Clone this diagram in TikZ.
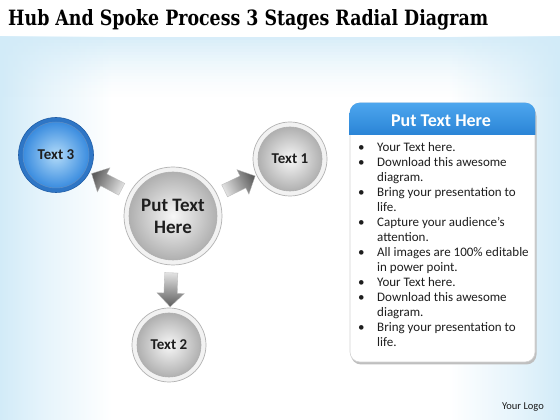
\documentclass[tikz,border=0pt]{standalone}
\usepackage{fontspec}
\setmainfont{Carlito}
\newfontfamily\titlefont{DejaVu Serif}
\usepackage{graphicx}
\usetikzlibrary{shapes.arrows}
\definecolor{bgblue}{HTML}{D2EBF8}
\definecolor{ringblue}{HTML}{2E76C6}
\definecolor{ringblueedge}{HTML}{1F5DA6}
\definecolor{ballbluein}{HTML}{B2DBF9}
\definecolor{ballblueout}{HTML}{3A8CDF}
\definecolor{hdtop}{HTML}{4DA6EE}
\definecolor{hdbot}{HTML}{2A84D6}
\definecolor{txt}{HTML}{1E1E1E}
\definecolor{arrdark}{HTML}{5E5E5E}
\definecolor{arrlight}{HTML}{E2E2E2}
\pgfdeclarehorizontalshading{bgsides}{100bp}{color(0bp)=(bgblue); color(25bp)=(bgblue);
  color(29bp)=(bgblue!55!white); color(35bp)=(white); color(65bp)=(white);
  color(71bp)=(bgblue!55!white); color(75bp)=(bgblue); color(100bp)=(bgblue)}
\tikzset{
  ringc/.style={fill=gray!10, draw=gray!60, line width=0.7pt},
  ballc/.style={circle, inner sep=0pt, inner color=gray!6, outer color=gray!62,
     draw=gray!62, line width=0.6pt, text=txt, font=\bfseries\fontsize{15}{17}\selectfont},
  harrow/.style={single arrow, sloped, allow upside down, inner sep=0pt,
     text height=6.5pt, text depth=6.5pt, minimum height=34pt, single arrow head extend=7pt,
     shading=axis, top color=arrdark, bottom color=arrlight, shading angle=#1,
     draw=gray!55, line width=0.3pt},
}
\begin{document}
\begin{tikzpicture}[x=1pt,y=1pt]
\useasboundingbox (0,0) rectangle (560,420);
\fill[white] (0,0) rectangle (560,420);
\shade[shading=bgsides] (0,0) rectangle (560,383);
\foreach \i in {0,...,19}{
  \pgfmathsetmacro\op{0.85*(1-\i/20)^1.5}
  \fill[bgblue, fill opacity=\op] (0,{383-3*\i}) rectangle (560,{383-3*\i-3.05});
}

% title
\node[anchor=base west, inner sep=0pt] (title) at (8,394)
  {\resizebox{480pt}{16pt}{\titlefont\bfseries Hub And Spoke Process 3 Stages Radial Diagram}};

% Text 3 (blue)
\fill[ringblue] (56,265) circle (37.5);
\draw[ringblueedge, line width=0.6pt] (56,265) circle (37.5);
\node[circle, inner sep=0pt, minimum size=66pt, inner color=ballbluein, outer color=ballblueout,
      draw=ringblueedge!70, line width=0.5pt, text=txt, font=\bfseries\fontsize{15}{17}\selectfont]
      (t3) at (56,265) {Text 3};

% Text 1
\filldraw[ringc] (290,261) circle (37);
\node[ballc, minimum size=64pt] (t1) at (290,261) {Text 1};

% Hub
\filldraw[ringc] (173,204) circle (49);
\node[ballc, minimum size=88pt, align=center, font=\bfseries\fontsize{19}{22}\selectfont] (hub) at (173,204) {Put Text\\Here};

% Text 2
\filldraw[ringc] (169,75) circle (37);
\node[ballc, minimum size=64pt] (t2) at (169,75) {Text 2};

% arrows
\path (hub) -- node[harrow=62.5] (a3) {} (t3);
\path (hub) -- node[harrow=-64] (a1) {} (t1);
\path (hub) -- node[harrow=178] (a2) {} (t2);

% panel
\fill[gray!50, rounded corners=10pt] (351,55.5) rectangle (536.5,314);
\node[draw=gray!35, fill=white, rounded corners=10pt, minimum width=185pt, minimum height=259pt,
      inner sep=0pt, line width=0.6pt] (panel) at (442.5,187.5) {};
\shade[top color=hdtop, bottom color=hdbot]
  (panel.west |- 0,285) {[rounded corners=10pt] -- (panel.north west) -- (panel.north east)} -- (panel.east |- 0,285) -- cycle;
\node[text=white, font=\bfseries\fontsize{18}{20}\selectfont] (ph) at (441,299) {Put Text Here};

\node[anchor=north west, inner sep=0pt, text=txt, font=\fontsize{13}{15}\selectfont] (list) at (358,279.5)
{\begin{tabular}{@{}p{19pt}@{}l@{}}
 \textbullet & Your Text here.\\
 \textbullet & Download this awesome\\
  & diagram.\\
 \textbullet & Bring your presentation to\\
  & life.\\
 \textbullet & Capture your audience’s\\
  & attention.\\
 \textbullet & All images are 100\% editable\\
  & in power point.\\
 \textbullet & Your Text here.\\
 \textbullet & Download this awesome\\
  & diagram.\\
 \textbullet & Bring your presentation to\\
  & life.
\end{tabular}};

\node[text=gray!20!black, font=\fontsize{10.5}{12}\selectfont] (logo) at (523,13) {Your Logo};
\end{tikzpicture}
\end{document}
